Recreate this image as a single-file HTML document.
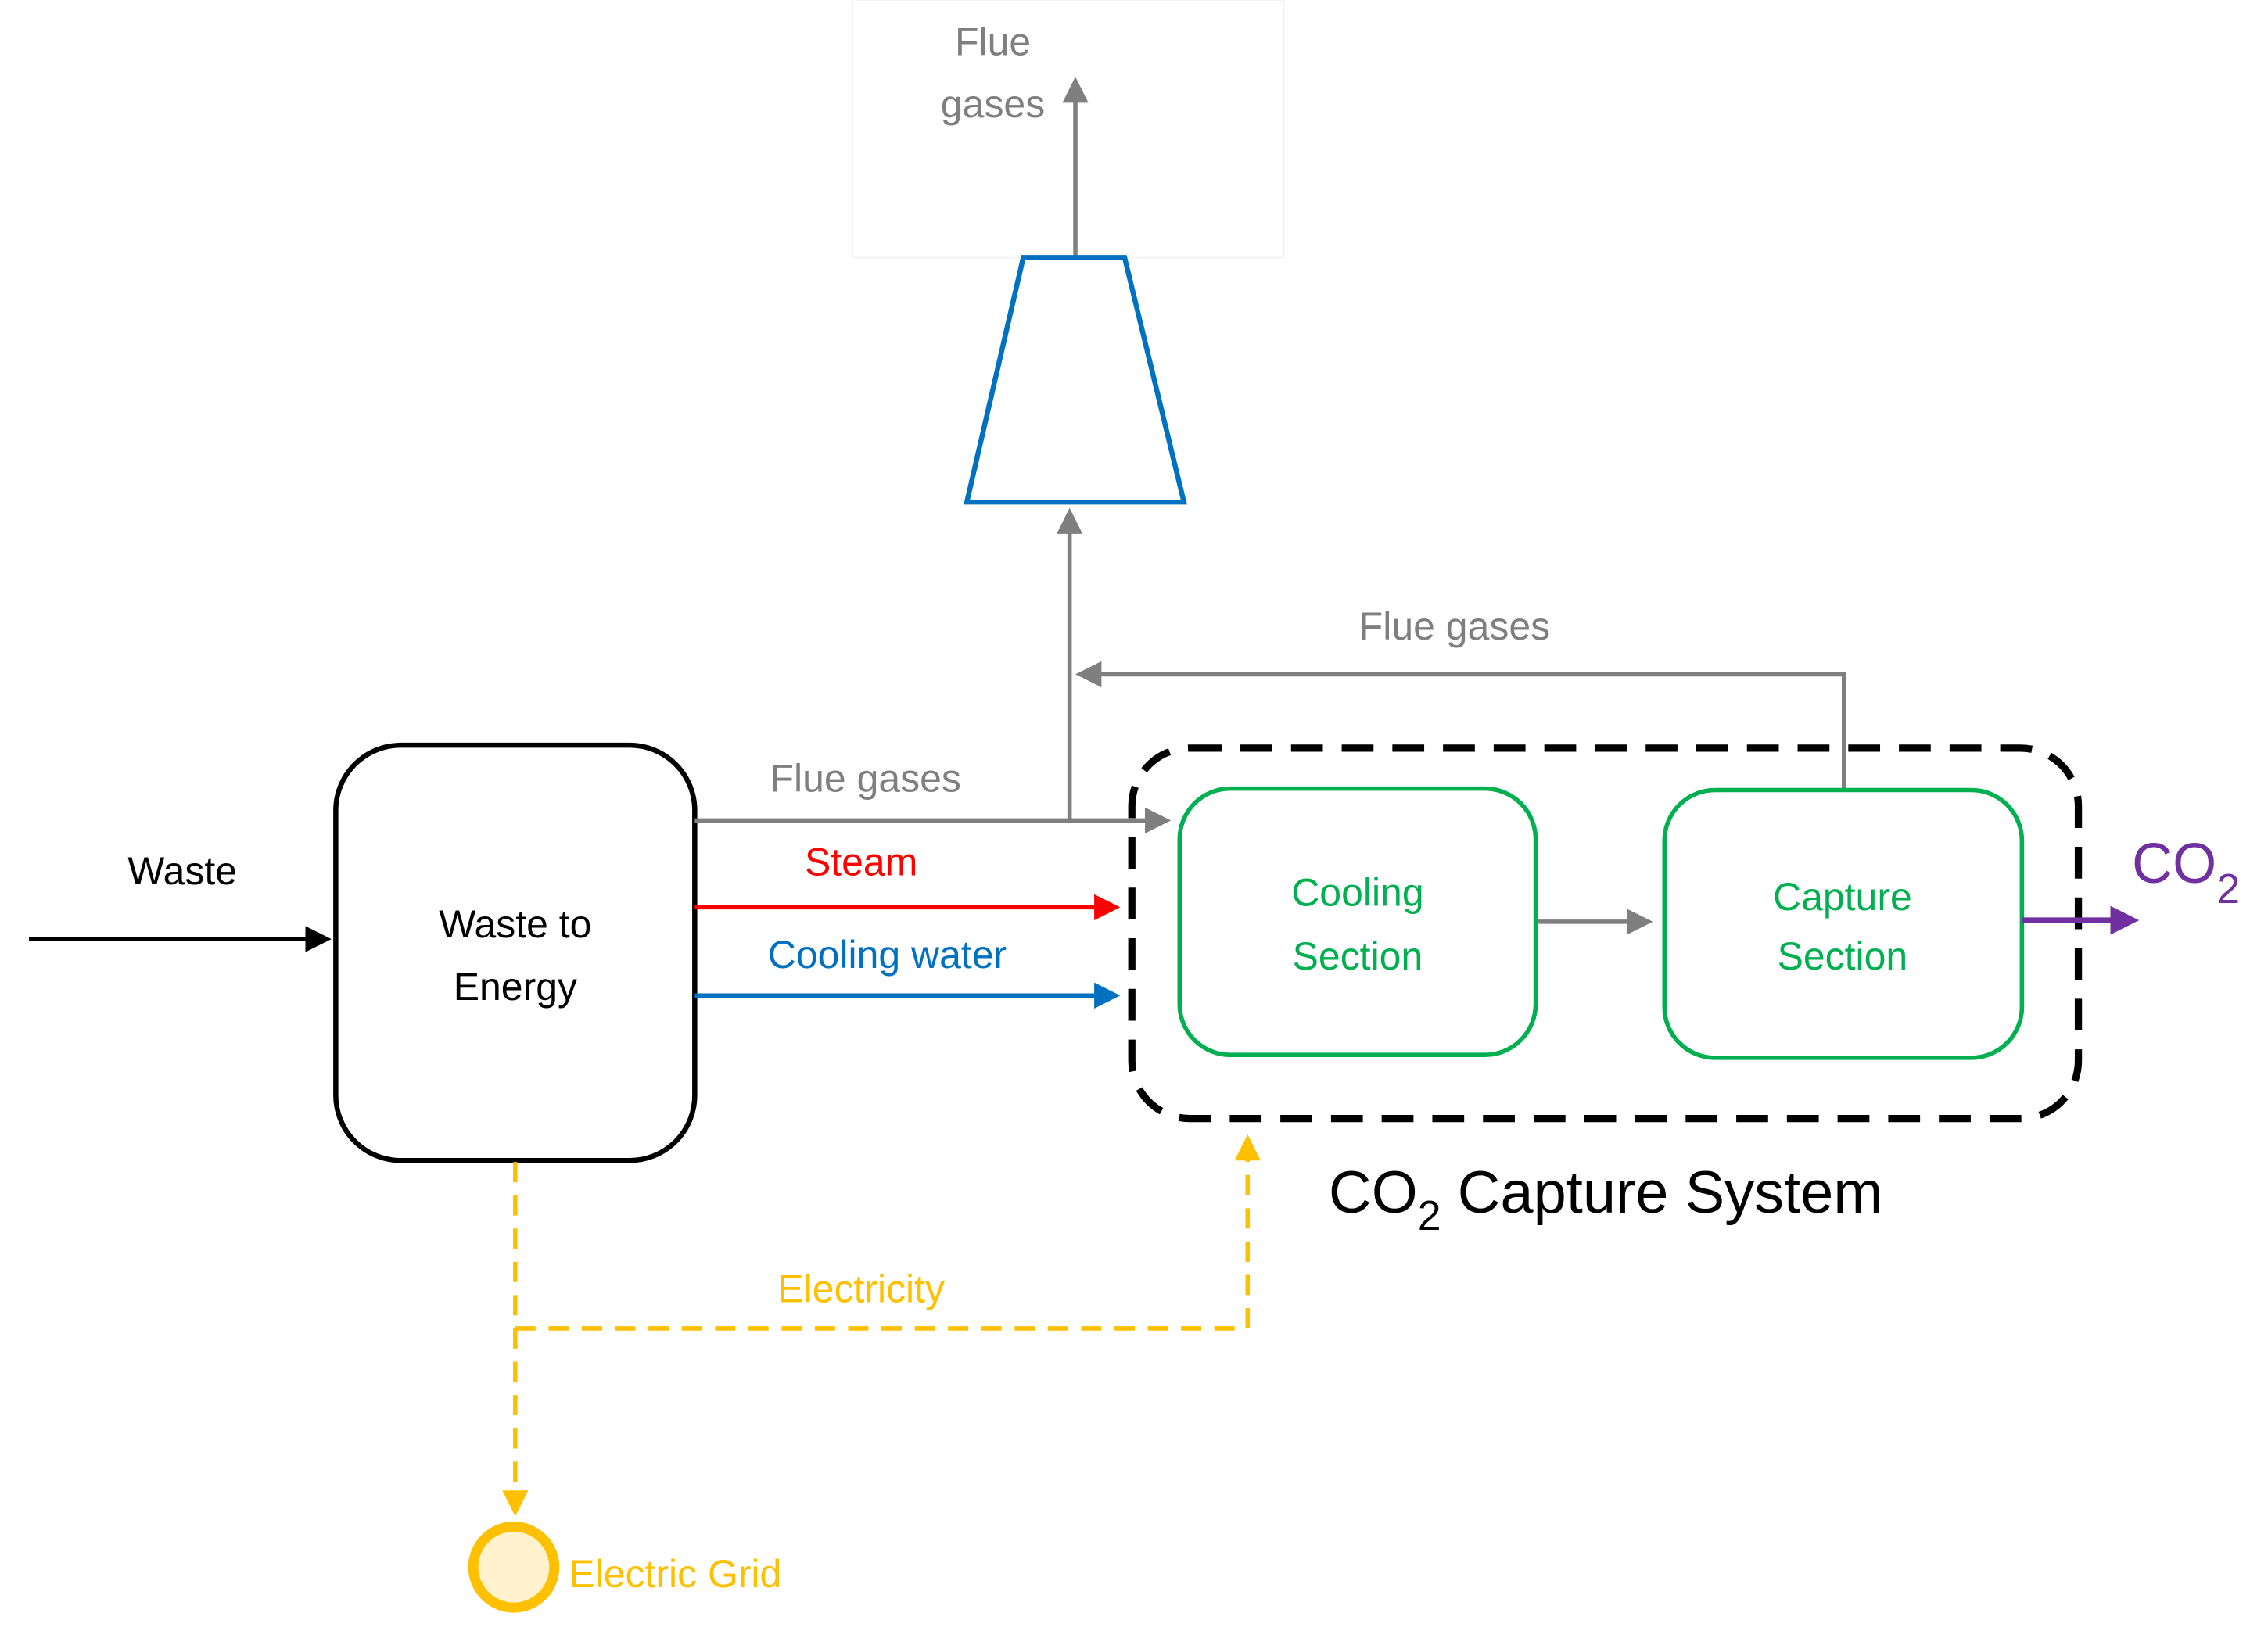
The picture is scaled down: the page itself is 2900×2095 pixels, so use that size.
<!DOCTYPE html>
<html><head><meta charset="utf-8"><style>html,body{margin:0;padding:0;background:#fff}svg{display:block}</style></head>
<body>
<svg width="2900" height="2095" viewBox="0 0 1567 1132" preserveAspectRatio="none" xmlns="http://www.w3.org/2000/svg" font-family="Liberation Sans, sans-serif">
<defs>
<marker id="ag" markerWidth="6" markerHeight="6" refX="5" refY="3" orient="auto" markerUnits="strokeWidth"><path d="M0,0 L6,3 L0,6 z" fill="#7f7f7f"/></marker>
<marker id="ak" markerWidth="6" markerHeight="6" refX="5" refY="3" orient="auto" markerUnits="strokeWidth"><path d="M0,0 L6,3 L0,6 z" fill="#000"/></marker>
<marker id="ar" markerWidth="6" markerHeight="6" refX="5" refY="3" orient="auto" markerUnits="strokeWidth"><path d="M0,0 L6,3 L0,6 z" fill="#ff0000"/></marker>
<marker id="ab" markerWidth="6" markerHeight="6" refX="5" refY="3" orient="auto" markerUnits="strokeWidth"><path d="M0,0 L6,3 L0,6 z" fill="#0070C0"/></marker>
<marker id="ap" markerWidth="5" markerHeight="5" refX="4" refY="2.5" orient="auto" markerUnits="strokeWidth"><path d="M0,0 L5,2.5 L0,5 z" fill="#7030A0"/></marker>
<marker id="ay" markerWidth="6" markerHeight="6" refX="5" refY="3" orient="auto" markerUnits="strokeWidth"><path d="M0,0 L6,3 L0,6 z" fill="#FFC000"/></marker>
</defs>
<rect x="589" y="0" width="298" height="178" fill="none" stroke="#f3f3f3" stroke-width="1"/>
<text x="686" y="38" font-size="27" fill="#7f7f7f" text-anchor="middle">Flue</text>
<text x="686" y="81" font-size="27" fill="#7f7f7f" text-anchor="middle">gases</text>
<line x1="743" y1="178" x2="743" y2="56" stroke="#7f7f7f" stroke-width="3" marker-end="url(#ag)"/>
<polygon points="707,178 777,178 818,347 668,347" fill="none" stroke="#0070C0" stroke-width="3.5"/>
<line x1="739" y1="567" x2="739" y2="354" stroke="#7f7f7f" stroke-width="3" marker-end="url(#ag)"/>
<polyline points="1274,545 1274,466 746,466" fill="none" stroke="#7f7f7f" stroke-width="3" marker-end="url(#ag)"/>
<text x="1005" y="442" font-size="27" fill="#7f7f7f" text-anchor="middle">Flue gases</text>
<rect x="232" y="515" width="248" height="287" rx="45" fill="none" stroke="#000" stroke-width="3.5"/>
<text x="356" y="648" font-size="27" text-anchor="middle">Waste to</text>
<text x="356" y="691" font-size="27" text-anchor="middle">Energy</text>
<line x1="20" y1="649" x2="226" y2="649" stroke="#000" stroke-width="3" marker-end="url(#ak)"/>
<text x="126" y="611" font-size="27" text-anchor="middle">Waste</text>
<line x1="480" y1="567" x2="806" y2="567" stroke="#7f7f7f" stroke-width="3" marker-end="url(#ag)"/>
<text x="598" y="547" font-size="27" fill="#7f7f7f" text-anchor="middle">Flue gases</text>
<line x1="480" y1="627" x2="771" y2="627" stroke="#ff0000" stroke-width="3" marker-end="url(#ar)"/>
<text x="595" y="605" font-size="27" fill="#ff0000" text-anchor="middle">Steam</text>
<line x1="480" y1="688" x2="771" y2="688" stroke="#0070C0" stroke-width="3" marker-end="url(#ab)"/>
<text x="613" y="669" font-size="27" fill="#0070C0" text-anchor="middle">Cooling water</text>
<rect x="782" y="517" width="654" height="256" rx="40" fill="none" stroke="#000" stroke-width="5" stroke-dasharray="22 13"/>
<rect x="815" y="545" width="246" height="184" rx="35" fill="#fff" stroke="#00B050" stroke-width="3"/>
<text x="938" y="626" font-size="27" fill="#00B050" text-anchor="middle">Cooling</text>
<text x="938" y="670" font-size="27" fill="#00B050" text-anchor="middle">Section</text>
<line x1="1062" y1="637" x2="1139" y2="637" stroke="#7f7f7f" stroke-width="3" marker-end="url(#ag)"/>
<rect x="1150" y="546" width="247" height="185" rx="35" fill="#fff" stroke="#00B050" stroke-width="3"/>
<text x="1273" y="629" font-size="27" fill="#00B050" text-anchor="middle">Capture</text>
<text x="1273" y="670" font-size="27" fill="#00B050" text-anchor="middle">Section</text>
<line x1="1397" y1="636" x2="1474" y2="636" stroke="#7030A0" stroke-width="4" marker-end="url(#ap)"/>
<text x="1473" y="610" font-size="39" fill="#7030A0">CO<tspan font-size="29" dy="14">2</tspan></text>
<text x="918" y="838" font-size="41">CO<tspan font-size="29" dy="12">2</tspan><tspan dy="-12"> Capture System</tspan></text>
<polyline points="356,803 356,918 862,918 862,787" fill="none" stroke="#FFC000" stroke-width="3" stroke-dasharray="14 9" marker-end="url(#ay)"/>
<line x1="356" y1="918" x2="356" y2="1045" stroke="#FFC000" stroke-width="3" stroke-dasharray="14 9" marker-end="url(#ay)"/>
<text x="595" y="900" font-size="27" fill="#FFC000" text-anchor="middle">Electricity</text>
<circle cx="355" cy="1083" r="28" fill="#FFF2CC" stroke="#FFC000" stroke-width="7"/>
<text x="393" y="1097" font-size="27" fill="#FFC000">Electric Grid</text>
</svg>
</body></html>
